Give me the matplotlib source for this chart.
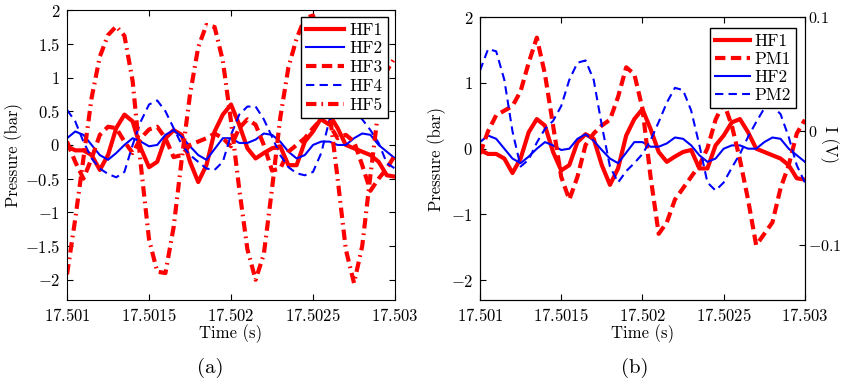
import numpy as np
import matplotlib
matplotlib.use('Agg')
import matplotlib.pyplot as plt
import matplotlib.ticker as ticker

# LaTeX-ish look: cm fonts for everything
plt.rcParams['font.family'] = 'serif'
plt.rcParams['font.serif'] = ['cmr10', 'DejaVu Serif']
plt.rcParams['mathtext.fontset'] = 'cm'
plt.rcParams['axes.unicode_minus'] = False

# time grid, 0.05 ms steps from 17.501 s to 17.503 s
t = 17.501 + 0.00005 * np.arange(41)

# pressure signals (bar)
hf1 = [-0.02, -0.08, -0.08, -0.15, -0.37, -0.15, 0.25, 0.45, 0.35, -0.05,
       -0.33, -0.25, 0.10, 0.22, 0.15, -0.25, -0.55, -0.30, 0.20, 0.45,
       0.60, 0.30, -0.05, -0.20, -0.12, -0.05, -0.02, -0.30, -0.30, 0.05,
       0.20, 0.40, 0.45, 0.25, 0.00, -0.05, -0.10, -0.15, -0.25, -0.45, -0.47]
hf2 = [0.10, 0.20, 0.15, 0.00, -0.15, -0.22, -0.12, 0.00, 0.10, 0.05,
       -0.02, 0.00, 0.15, 0.22, 0.12, -0.02, -0.15, -0.22, -0.06, 0.10,
       0.10, 0.03, 0.03, 0.08, 0.17, 0.15, 0.05, -0.10, -0.20, -0.15,
       0.00, 0.05, 0.05, 0.00, 0.00, 0.10, 0.17, 0.15, 0.00, -0.10, -0.20]
hf3 = [0.05, -0.25, -0.50, -0.20, 0.15, 0.27, 0.25, 0.05, -0.12, 0.10,
       0.23, 0.27, 0.10, -0.18, -0.15, 0.00, 0.05, 0.10, 0.17, 0.10,
       -0.02, 0.25, 0.38, 0.30, 0.00, -0.38, -0.35, -0.10, 0.00, 0.10,
       0.25, 0.38, 0.30, 0.10, 0.15, 0.05, -0.30, -0.68, -0.50, -0.35, -0.15]
hf4 = [0.52, 0.35, 0.05, -0.20, -0.35, -0.43, -0.48, -0.40, 0.00, 0.35,
       0.60, 0.66, 0.50, 0.25, 0.00, -0.15, -0.25, -0.35, -0.37, -0.25,
       0.15, 0.45, 0.57, 0.57, 0.38, 0.12, -0.15, -0.33, -0.42, -0.45,
       -0.40, -0.12, 0.37, 0.50, 0.55, 0.50, 0.38, 0.22, 0.03, -0.27, -0.35]
hf5 = [-1.92, -1.10, -0.20, 0.70, 1.31, 1.63, 1.76, 1.62, 0.95, -0.30,
       -1.40, -1.88, -1.90, -1.22, -0.20, 0.75, 1.45, 1.78, 1.75, 1.25,
       0.35, -0.65, -1.55, -2.00, -1.62, -0.65, 0.40, 1.15, 1.58, 1.88,
       1.92, 1.35, 0.50, -0.50, -1.55, -2.05, -1.50, -0.45, 0.55, 1.10, 1.30]

# photomultiplier signals (V)
pm1 = [-0.020, 0.000, 0.014, 0.018, 0.022, 0.035, 0.060, 0.082, 0.050, 0.005,
       -0.040, -0.060, -0.040, -0.012, -0.002, 0.005, 0.010, 0.030, 0.056, 0.050,
       0.020, -0.040, -0.090, -0.080, -0.060, -0.050, -0.040, -0.030, -0.015, 0.010,
       0.025, 0.005, -0.025, -0.060, -0.100, -0.090, -0.080, -0.050, -0.030, -0.002, 0.010]
pm2 = [0.053, 0.072, 0.070, 0.045, 0.000, -0.031, -0.025, -0.010, 0.002, 0.009,
       0.022, 0.045, 0.060, 0.062, 0.045, 0.005, -0.031, -0.045, -0.035, -0.028,
       -0.020, -0.008, 0.008, 0.025, 0.038, 0.036, 0.018, -0.012, -0.045, -0.052,
       -0.045, -0.032, -0.020, -0.005, 0.008, 0.020, 0.022, 0.015, -0.005, -0.030, -0.045]

xticks = [17.501, 17.5015, 17.502, 17.5025, 17.503]

def fmt(v, pos):
    return '$%g$' % round(v, 6)

fig = plt.figure(figsize=(8.41, 3.87), dpi=100)
ax1 = fig.add_axes([0.0797, 0.2248, 0.390, 0.749])
ax2 = fig.add_axes([0.5707, 0.2248, 0.3864, 0.731])

thick = 3.0
thin = 1.5
lab = 12

# ---- (a)
ax1.plot(t, hf1, color='r', lw=thick, label='HF1')
ax1.plot(t, hf2, color='b', lw=thin, label='HF2')
ax1.plot(t, hf3, color='r', lw=thick, ls=(0, (2.5, 1.3)), label='HF3')
ax1.plot(t, hf4, color='b', lw=thin, ls=(0, (4, 2.5)), label='HF4')
ax1.plot(t, hf5, color='r', lw=thick, ls=(0, (2.5, 1.2, 0.4, 1.2)), label='HF5')
ax1.set_xlim(17.501, 17.503)
ax1.set_ylim(-2.3, 2)
ax1.set_yticks(np.arange(-2, 2.01, 0.5))
ax1.set_ylabel('Pressure (bar)', fontsize=lab)
ax1.yaxis.set_label_coords(-0.135, 0.5)
ax1.set_xlabel('Time (s)', fontsize=lab, labelpad=0)
leg = ax1.legend(loc='upper right', fontsize=12.5, handlelength=2.2, fancybox=False,
                 edgecolor='k', framealpha=1, borderaxespad=0.4, labelspacing=0.2,
                 borderpad=0.3, handletextpad=0.3)
leg.get_frame().set_linewidth(1.0)
fig.text(0.25, 0.05, '(a)', ha='center', va='center', fontsize=15)

# ---- (b)
l1, = ax2.plot(t, hf1, color='r', lw=thick, label='HF1')
l3, = ax2.plot(t, hf2, color='b', lw=thin, label='HF2')
ax2.set_xlim(17.501, 17.503)
ax2.set_ylim(-2.3, 2)
ax2.set_yticks([-2, -1, 0, 1, 2])
ax2.set_ylabel('Pressure (bar)', fontsize=lab)
ax2.yaxis.set_label_coords(-0.105, 0.5)
ax2.set_xlabel('Time (s)', fontsize=lab, labelpad=0)
fig.text(0.755, 0.05, '(b)', ha='center', va='center', fontsize=15)

ax3 = ax2.twinx()
l2, = ax3.plot(t, pm1, color='r', lw=thick, ls=(0, (2.5, 1.3)), label='PM1')
l4, = ax3.plot(t, pm2, color='b', lw=thin, ls=(0, (4, 2.5)), label='PM2')
ax3.set_ylim(-0.148, 0.1)
ax3.set_yticks([-0.1, 0, 0.1])
ax3.set_ylabel('I (V)', fontsize=lab, rotation=270, va='center')
ax3.yaxis.set_label_coords(1.075, 0.55)
leg2 = ax3.legend([l1, l2, l3, l4], ['HF1', 'PM1', 'HF2', 'PM2'], loc='upper right',
                  fontsize=12.5, handlelength=2.0, fancybox=False, edgecolor='k',
                  framealpha=1, borderaxespad=0.4, labelspacing=0.15, borderpad=0.3,
                  handletextpad=0.3, bbox_to_anchor=(0.995, 0.985))
leg2.get_frame().set_linewidth(1.0)

for ax in (ax1, ax2):
    ax.set_xticks(xticks)
    ax.xaxis.set_major_formatter(ticker.FuncFormatter(fmt))
    ax.yaxis.set_major_formatter(ticker.FuncFormatter(fmt))
    ax.tick_params(direction='in', labelsize=12, length=4, pad=5)
ax1.tick_params(top=True, right=True)
ax2.tick_params(top=True)
ax3.yaxis.set_major_formatter(ticker.FuncFormatter(fmt))
ax3.tick_params(direction='in', labelsize=11.5, length=4, pad=2)

fig.savefig('out.png', dpi=100)
